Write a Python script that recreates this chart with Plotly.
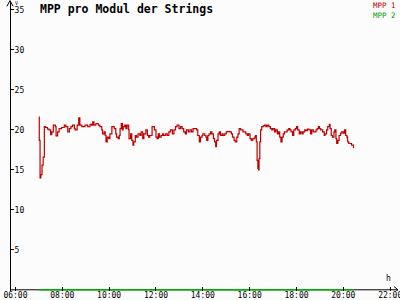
import plotly.graph_objects as go

times = ["07:00","07:01","07:03","07:05","07:08","07:11","07:14","07:17","07:22","07:26","07:30","07:33","07:37","07:42","07:44","07:48","07:52","07:58",
"08:05","08:09","08:14","08:18","08:22","08:26","08:31","08:33","08:38","08:42","08:45","08:50","08:58",
"09:05","09:11","09:15","09:18","09:21","09:26","09:32","09:36","09:41","09:43","09:47","09:50","09:52","09:55","09:59",
"10:02","10:07","10:13","10:17","10:19","10:23","10:26","10:28","10:31","10:34","10:36","10:40","10:43","10:46","10:50","10:51","10:55","10:58",
"11:01","11:03","11:07","11:10","11:14","11:19","11:22","11:26","11:29","11:34","11:38","11:41","11:44","11:50","11:56",
"12:00","12:03","12:06","12:09","12:13","12:17","12:20","12:25","12:29","12:33","12:37","12:42","12:46","12:50","12:54","12:59",
"13:03","13:07","13:11","13:15","13:18","13:23","13:27","13:31","13:35","13:40","13:44","13:47","13:51","13:54","13:58",
"14:00","14:05","14:08","14:10","14:13","14:16","14:20","14:23","14:27","14:30","14:33","14:35","14:39","14:42","14:45","14:49","14:52","14:56",
"15:00","15:04","15:09","15:13","15:16","15:20","15:23","15:27","15:30","15:33","15:37","15:40","15:43","15:47","15:50","15:54","15:57",
"16:01","16:04","16:08","16:13","16:15","16:17","16:19","16:21","16:23","16:24","16:26","16:28","16:31","16:35","16:38","16:42","16:45","16:49","16:53","16:57",
"17:00","17:04","17:07","17:11","17:14","17:17","17:20","17:23","17:26","17:29","17:33","17:36","17:40","17:43","17:46","17:50","17:53","17:57",
"18:00","18:03","18:07","18:10","18:14","18:17","18:21","18:24","18:28","18:32","18:36","18:39","18:43","18:46","18:50","18:53","18:56","18:59",
"19:02","19:07","19:11","19:13","19:17","19:20","19:24","19:26","19:29","19:32","19:36","19:38","19:41","19:43","19:46","19:49","19:53","19:56",
"20:00","20:03","20:06","20:09","20:11","20:14","20:17","20:21","20:24","20:26"]

mpp1 = [21.6,18.7,14.0,14.4,15.6,16.6,20.4,20.3,20.1,20.0,19.4,19.75,20.6,20.4,19.25,19.75,20.15,20.3,
20.6,20.4,19.75,20.15,20.4,20.6,20.15,20.0,20.6,21.5,20.6,20.4,20.6,
20.4,20.7,20.6,21.0,20.6,20.8,20.6,20.4,20.0,19.5,19.75,19.3,18.5,19.1,18.9,
19.5,20.4,20.15,19.5,19.1,18.9,19.3,20.15,20.8,20.0,20.4,20.6,20.15,20.6,20.0,18.9,19.5,18.7,
18.1,18.5,19.3,19.1,19.5,19.3,19.75,18.9,19.5,20.0,19.3,19.1,19.3,20.4,20.0,
19.1,18.9,19.5,19.1,19.3,19.5,19.3,19.5,19.3,19.75,20.0,19.5,20.0,20.4,20.6,20.15,
20.4,20.15,19.75,19.5,20.0,19.75,20.0,19.75,20.15,20.15,20.0,19.3,18.5,19.1,19.3,
19.5,19.3,19.1,18.7,19.3,19.5,19.75,19.5,18.9,18.5,17.9,18.7,19.5,19.75,19.3,19.5,19.3,19.5,
19.75,19.8,19.75,19.5,19.1,18.7,18.5,19.1,19.5,20.15,20.0,20.0,19.75,19.75,19.5,19.3,19.5,
18.9,18.7,18.9,19.1,19.3,18.5,16.2,15.2,15.0,16.4,18.5,20.0,20.4,20.5,20.6,20.4,20.6,20.4,20.15,20.0,
20.15,19.75,20.0,19.5,19.75,19.1,18.5,19.1,19.5,19.75,19.75,20.0,20.15,20.0,19.75,19.3,20.0,20.15,
20.4,20.0,19.5,19.75,19.5,19.75,20.0,19.9,20.1,20.0,19.5,20.0,19.75,19.75,20.0,20.15,20.4,20.15,
20.0,19.75,19.3,19.5,20.0,20.4,20.7,20.15,19.3,19.1,19.75,20.0,18.9,18.3,18.7,19.3,19.6,19.75,
19.6,20.0,19.3,19.1,18.5,18.3,18.3,18.1,18.1,17.75]

mpp2 = [0.0] * len(times)

x_ticks = ["06:00","08:00","10:00","12:00","14:00","16:00","18:00","20:00","22:00"]
y_ticks = [5,10,15,20,25,30,35]

day = "2024-06-01 "
xs = [day + t for t in times]

fig = go.Figure()
fig.add_trace(go.Scatter(x=xs, y=mpp2, mode="lines", name="MPP 2",
                         line=dict(color="#00b000", width=1.6, shape="hv"), showlegend=False))
fig.add_trace(go.Scatter(x=xs, y=mpp1, mode="lines", name="MPP 1",
                         line=dict(color="#c00000", width=1.2, shape="hv"), showlegend=False))

mono = "DejaVu Sans Mono"
fig.update_layout(
    template="none",
    width=400, height=300,
    margin=dict(l=10, r=2, t=2, b=9),
    paper_bgcolor="#fcfcfc", plot_bgcolor="#fcfcfc",
    font=dict(family=mono, size=8, color="#000000"),
    xaxis=dict(type="date", range=[day + "05:46", day + "22:20"],
               tickvals=[day + t for t in x_ticks], ticktext=x_ticks,
               showgrid=False, zeroline=False, showline=False, automargin=False,
               ticklabeloverflow="allow", ticklabelstandoff=-2,
               ticks="inside", ticklen=4, tickcolor="#000", tickwidth=1,
               tickfont=dict(family=mono, size=8, color="#000")),
    yaxis=dict(range=[-0.15, 36], tickvals=y_ticks, ticktext=[str(v) for v in y_ticks],
               side="right", anchor="free", position=0,
               showgrid=False, zeroline=False, showline=True, linecolor="#000", linewidth=1,
               automargin=False, layer="below traces", ticklabeloverflow="allow",
               ticks="outside", ticklen=3, tickcolor="#000", tickwidth=1, ticklabelstandoff=-1,
               tickfont=dict(family=mono, size=8, color="#000")),
    title=dict(text="MPP pro Modul der Strings", xref="container", yref="container",
               x=0.1, xanchor="left", y=1 - 8.5 / 300, yanchor="middle",
               font=dict(family=mono, size=11.5, color="#000", weight="bold")),
    annotations=[
        dict(text="<span style='color:#c00000'>MPP 1</span><br><span style='color:#00a000'>MPP 2</span>",
             xref="paper", yref="paper", x=1.0, y=1.0, xanchor="right", yanchor="top", align="right",
             yshift=3, showarrow=False, font=dict(family=mono, size=7.5)),
        dict(text="V", xref="paper", yref="paper", x=0.0, y=1.0, xanchor="left", yanchor="top", xshift=3, yshift=4,
             showarrow=False, font=dict(family=mono, size=5, color="#000")),
        dict(text="h", xref="paper", yref="y", x=0.975, y=0.6, xanchor="center", yanchor="bottom",
             showarrow=False, font=dict(family=mono, size=8, color="#000")),
    ],
    shapes=[
        dict(type="line", xref="paper", yref="y", x0=0, x1=1, y0=0, y1=0, layer="below",
             line=dict(color="#000", width=1)),
        dict(type="path", xref="paper", yref="paper", path="M -0.008,0.985 L 0,1.005 L 0.008,0.985",
             line=dict(color="#000", width=1)),
        dict(type="path", xref="paper", yref="y", path="M 0.99,0.4 L 1.0,0 L 0.99,-0.4",
             line=dict(color="#000", width=1)),
    ],
)

fig.write_html("out.html")
